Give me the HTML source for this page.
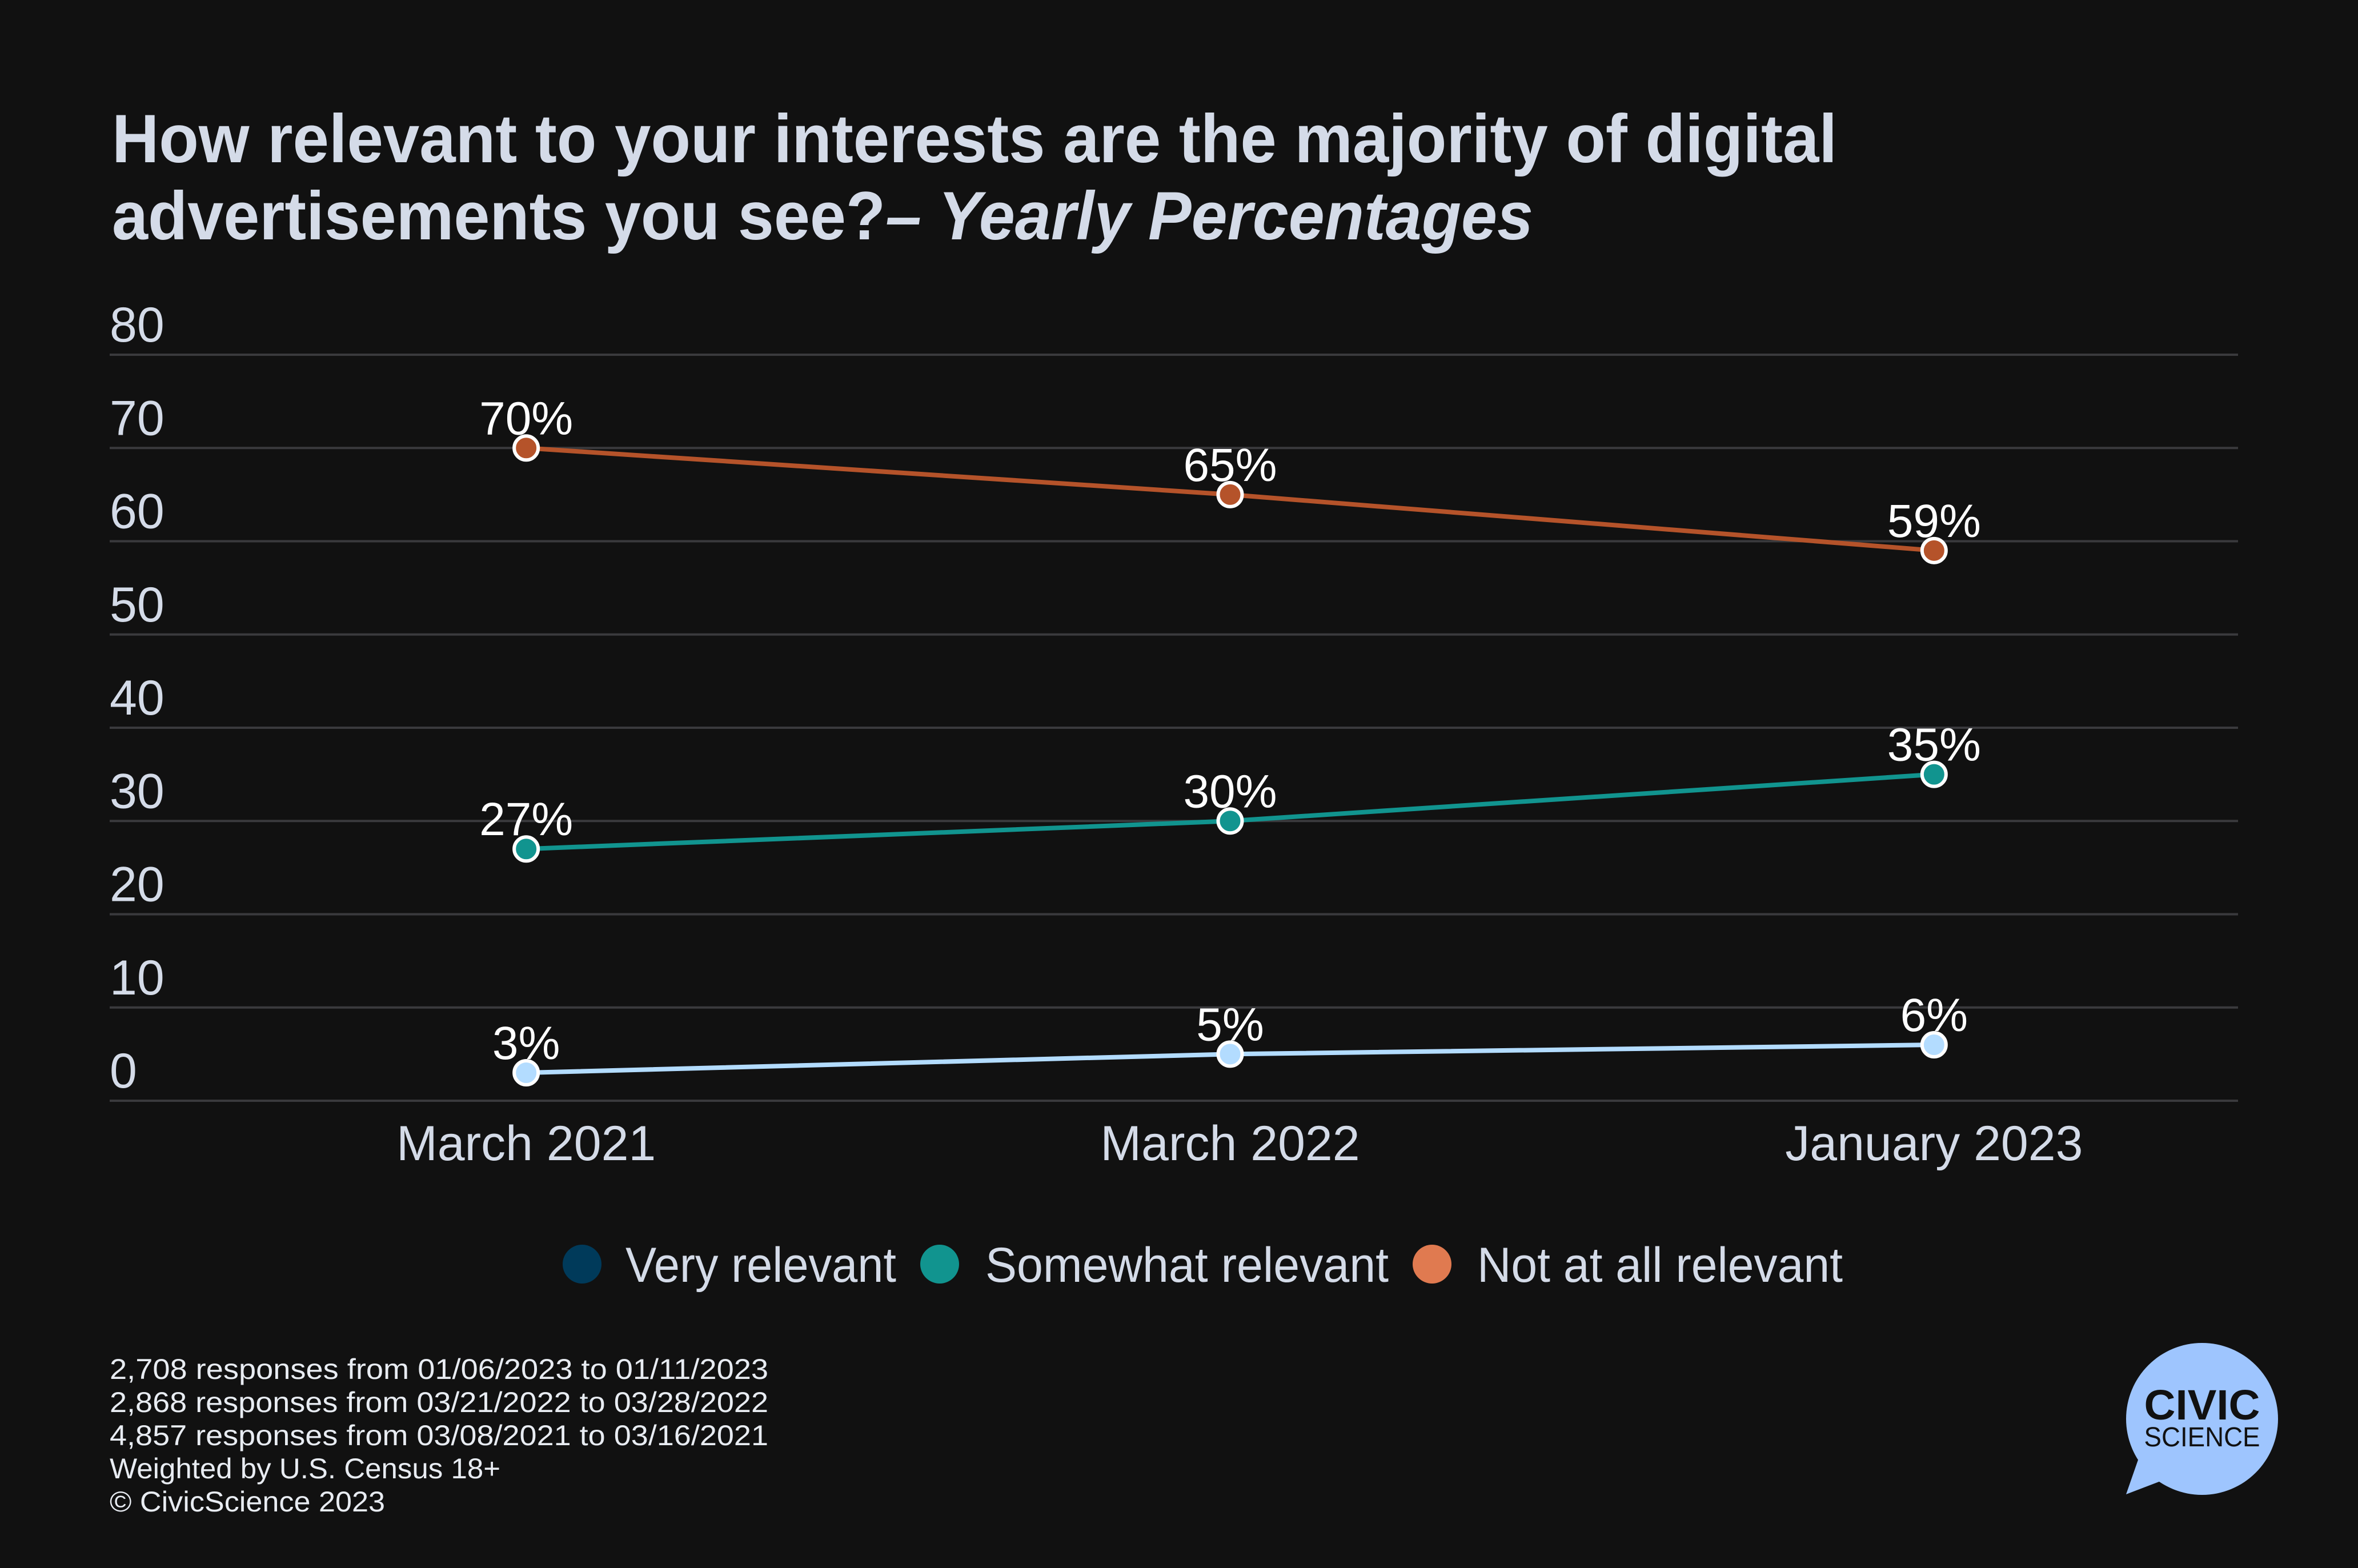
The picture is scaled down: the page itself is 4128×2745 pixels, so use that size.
<!DOCTYPE html>
<html><head><meta charset="utf-8"><style>
html,body{margin:0;padding:0;background:#111111;}
body{width:4128px;height:2740px;overflow:hidden;font-family:"Liberation Sans",sans-serif;}
</style></head><body>
<svg id="chart" width="4128" height="2740" xmlns="http://www.w3.org/2000/svg" style="font-family:'Liberation Sans',sans-serif">
<rect width="4128" height="2740" fill="#111111"/>
<text fill="#d4dbe8" font-weight="bold" font-size="120" x="196" y="284" textLength="3020" lengthAdjust="spacingAndGlyphs">How relevant to your interests are the majority of digital</text>
<text fill="#d4dbe8" font-weight="bold" font-size="120" x="196" y="419" textLength="2488" lengthAdjust="spacingAndGlyphs">advertisements you see?<tspan font-style="italic">– Yearly Percentages</tspan></text>
<g id="grid"></g>
<g id="series"></g>
<g id="legend">
<circle cx="1019" cy="2213" r="34" fill="#003a5a"/>
<text x="1095" y="2244" font-size="86" fill="#d4dbe8" textLength="474" lengthAdjust="spacingAndGlyphs">Very relevant</text>
<circle cx="1645" cy="2213" r="34" fill="#11948f"/>
<text x="1725" y="2244" font-size="86" fill="#d4dbe8" textLength="706" lengthAdjust="spacingAndGlyphs">Somewhat relevant</text>
<circle cx="2507" cy="2213" r="34" fill="#e07a50"/>
<text x="2586" y="2244" font-size="86" fill="#d4dbe8" textLength="640" lengthAdjust="spacingAndGlyphs">Not at all relevant</text>
</g>
<g fill="#e8ecf2" font-size="50">
<text x="192" y="2414" textLength="1153" lengthAdjust="spacingAndGlyphs">2,708 responses from 01/06/2023 to 01/11/2023</text>
<text x="192" y="2472" textLength="1153" lengthAdjust="spacingAndGlyphs">2,868 responses from 03/21/2022 to 03/28/2022</text>
<text x="192" y="2530" textLength="1153" lengthAdjust="spacingAndGlyphs">4,857 responses from 03/08/2021 to 03/16/2021</text>
<text x="192" y="2588" textLength="684" lengthAdjust="spacingAndGlyphs">Weighted by U.S. Census 18+</text>
<text x="192" y="2646" textLength="482" lengthAdjust="spacingAndGlyphs">© CivicScience 2023</text>
</g>
<g>
<circle cx="3855" cy="2484" r="133" fill="#9ec5fe"/>
<polygon points="3745,2550 3722,2616 3790,2590" fill="#9ec5fe"/>
<text x="3855" y="2485" text-anchor="middle" font-size="74" font-weight="bold" fill="#111" textLength="203" lengthAdjust="spacingAndGlyphs">CIVIC</text>
<text x="3855" y="2532" text-anchor="middle" font-size="48" fill="#111" textLength="203" lengthAdjust="spacingAndGlyphs">SCIENCE</text>
</g>
</svg>
<script>
const categories = ["March 2021","March 2022","January 2023"];
const veryRelevant = [3,5,6];
const somewhatRelevant = [27,30,35];
const notAtAllRelevant = [70,65,59];
const yTicks = [0,10,20,30,40,50,60,70,80];

const NS="http://www.w3.org/2000/svg";
const X0=192,X1=3918,Y0=1927,Y80=621;
const BX0=305,BX1=4002;
const band=(BX1-BX0)/categories.length;
function xScale(i){return BX0+band*(i+0.5);}
function yScale(v){return Y0-(v/80)*(Y0-Y80);}
function mk(tag,attrs,parent){const e=document.createElementNS(NS,tag);for(const k in attrs)e.setAttribute(k,attrs[k]);parent.appendChild(e);return e;}
const grid=document.getElementById('grid');
yTicks.forEach(t=>{
  const l=mk('line',{x1:X0,x2:X1,y1:yScale(t),y2:yScale(t),stroke:'#3a3a3d','stroke-width':4},grid);
  
  
  const tx=mk('text',{x:X0,y:yScale(t)-23,'font-size':86,fill:'#d4dbe8'},grid);
  tx.textContent=t;
  
  
});
categories.forEach((c,i)=>{
  const tx=mk('text',{x:xScale(i),y:2031,'font-size':86,fill:'#d4dbe8','text-anchor':'middle'},grid);
  tx.textContent=c;
  
  
});
const ser=document.getElementById('series');
const defs=[[notAtAllRelevant,'#b5532a','not-at-all-relevant'],[somewhatRelevant,'#11948f','somewhat-relevant'],[veryRelevant,'#b3dcff','very-relevant']];
defs.forEach(([vals,col,name])=>{
  const pts=vals.map((v,i)=>xScale(i)+','+yScale(v)).join(' ');
  const pl=mk('polyline',{points:pts,fill:'none',stroke:col,'stroke-width':8},ser);
  
  
});
defs.forEach(([vals,col,name])=>{
  vals.forEach((v,i)=>{
    const c=mk('circle',{cx:xScale(i),cy:yScale(v),r:21,fill:col,stroke:'#ffffff','stroke-width':6},ser);
    
    
    const t=mk('text',{x:xScale(i),y:yScale(v)-24,'font-size':82,fill:'#ffffff','text-anchor':'middle'},ser);
    t.textContent=v+'%';
    
    
  });
});
</script>
</body></html>
